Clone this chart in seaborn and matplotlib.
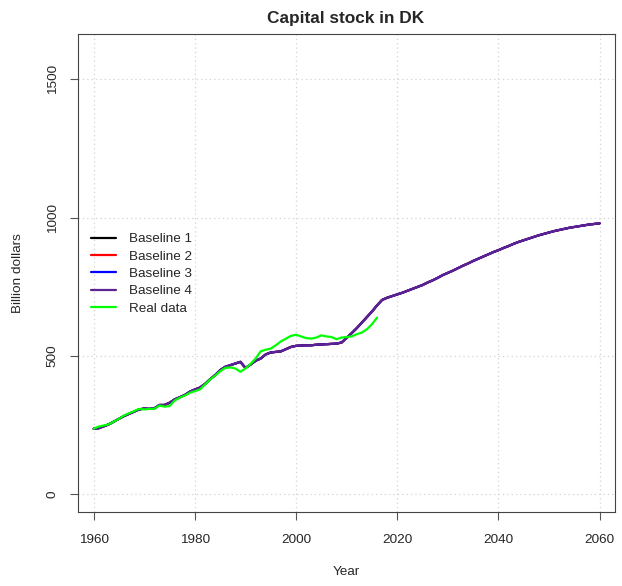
import seaborn as sns
import pandas as pd
import matplotlib.pyplot as plt

# ------------------ data ------------------
years_base = list(range(1960, 2061))
baseline = [236, 238, 245, 252, 262, 272, 282, 290, 298, 306,
            309, 308, 310, 322, 322, 330, 342, 350, 358, 370,
            378, 385, 398, 415, 430, 448, 460, 466, 472, 478,
            456, 468, 482, 490, 505, 512, 514, 516, 524, 532,
            536, 537, 538, 538, 540, 541, 542, 543, 544, 548,
            565, 582, 600, 620, 640, 660, 682, 702, 710, 716,
            722, 728, 735, 742, 749, 756, 765, 773, 782, 792,
            800, 808, 817, 826, 834, 843, 851, 859, 867, 875,
            882, 890, 897, 905, 912, 918, 924, 930, 936, 941,
            946, 951, 955, 959, 963, 966, 969, 972, 975, 977,
            979]

years_real = list(range(1960, 2017))
real_data = [236, 244, 248, 252, 262, 272, 284, 292, 300, 308,
             306, 308, 308, 320, 316, 318, 338, 348, 356, 366,
             372, 378, 396, 414, 428, 444, 456, 458, 454, 442,
             454, 470, 490, 516, 522, 526, 538, 552, 562, 572,
             576, 570, 564, 562, 566, 574, 570, 568, 560, 566,
             568, 570, 578, 584, 596, 614, 638]

series_names = ["Baseline 1", "Baseline 2", "Baseline 3", "Baseline 4"]
series_colors = ["black", "red", "blue", "#5b2490"]

x_ticks = [1960, 1980, 2000, 2020, 2040, 2060]
y_ticks = [0, 500, 1000, 1500]

# ------------------ plotting ------------------
sns.set_style("white")
plt.rcParams['font.family'] = ['Liberation Sans', 'DejaVu Sans']

fig = plt.figure(figsize=(6.22, 5.86), dpi=100)
ax = fig.add_axes([78 / 622, 1 - 511.7 / 586, (614.8 - 78) / 622, (511.7 - 34) / 586])

# R style dotted grid
for xt in x_ticks:
    ax.axvline(xt, color="lightgray", linestyle=(0, (1, 2.5)), linewidth=0.9, zorder=0)
for yt in y_ticks:
    ax.axhline(yt, color="lightgray", linestyle=(0, (1, 2.5)), linewidth=0.9, zorder=0)

base_df = pd.DataFrame({"year": years_base, "value": baseline})
for name, col in zip(series_names, series_colors):
    sns.lineplot(data=base_df, x="year", y="value", color=col, linewidth=1.6,
                 label=name, ax=ax)

real_df = pd.DataFrame({"year": years_real, "value": real_data})
sns.lineplot(data=real_df, x="year", y="value", color="#00ff00", linewidth=1.6,
             label="Real data", ax=ax)

ax.set_xlim(1956.9, 2063)
ax.set_ylim(-64, 1664)
ax.set_xticks(x_ticks)
ax.set_yticks(y_ticks)
ax.set_xticklabels([str(t) for t in x_ticks], fontsize=9.7)
ax.set_yticklabels([str(t) for t in y_ticks], fontsize=9.7, rotation=90, va="center")
ax.tick_params(axis="both", direction="out", length=6, width=0.8, color="#555555",
               bottom=True, left=True)
ax.tick_params(axis="x", pad=10)
ax.tick_params(axis="y", pad=8)
for s in ax.spines.values():
    s.set_color("#444444")
    s.set_linewidth(0.8)

ax.set_xlabel("")
ax.set_ylabel("")
fig.text(346 / 622, 1 - 572 / 586, "Year", ha="center", va="center", fontsize=9.7)
fig.text(18 / 622, 1 - 273 / 586, "Billion dollars", ha="center", va="center",
         rotation=90, fontsize=9.7)
fig.text(346 / 622, 1 - 18 / 586, "Capital stock in DK", ha="center", va="center",
         fontsize=12.4, fontweight="bold")

leg = ax.legend(loc="upper left", bbox_to_anchor=(91 / 622, 1 - 233 / 586),
                bbox_transform=fig.transFigure, frameon=False, fontsize=9.7,
                handlelength=1.85, handletextpad=1.0, labelspacing=0.36,
                borderpad=0, borderaxespad=0)

fig.savefig("out.png", dpi=100)
